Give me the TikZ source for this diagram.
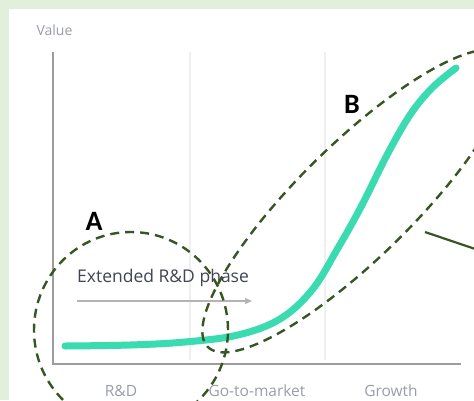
\documentclass[tikz,border=0pt]{standalone}
\usepackage{fontspec}
\setmainfont{Open Sans}
\newfontfamily\zonefont{Carlito}
\usetikzlibrary{arrows.meta,shapes.geometric}

\definecolor{panelgreen}{HTML}{E2EFDA}
\definecolor{darkgreen}{HTML}{375623}
\definecolor{mint}{HTML}{3ADBB0}
\definecolor{axisgray}{HTML}{9C9C9C}
\definecolor{gridgray}{HTML}{EFEFEF}
\definecolor{ticktext}{HTML}{9A9EA8}
\definecolor{phasetext}{HTML}{404552}
\definecolor{phasearrow}{HTML}{B4B4B4}

\begin{document}
\begin{tikzpicture}[
  x=1pt, y=-1pt,
  axis/.style={draw=axisgray, line width=2.6pt},
  gridline/.style={draw=gridgray, line width=1.6pt},
  ticklbl/.style={font=\fontsize{15.5}{18}\selectfont, text=ticktext, anchor=base},
  zone/.style={ellipse, draw=darkgreen, line width=2.4pt, dash pattern=on 9pt off 6pt, inner sep=0pt},
  zonelbl/.style={font=\zonefont\bfseries\fontsize{28}{30}\selectfont, anchor=base},
  lead/.style={draw=darkgreen, line width=2.2pt}
]
\useasboundingbox (0,0) rectangle (474,400);
\clip (0,0) rectangle (474,400);
\fill[panelgreen] (0,0) rectangle (474,400);
\fill[white] (9,9) rectangle (474,400);

% chart frame
\coordinate (ytop) at (53,52);
\coordinate (origin) at (53,364);
\coordinate (xend) at (461,364);
\draw[gridline] (190,52) -- (190,360);
\draw[gridline] (325,52) -- (325,360);
\draw[axis] (ytop) -- (origin) -- (xend);

\node[font=\fontsize{14}{16}\selectfont, text=ticktext, anchor=base west] (value) at (33,35) {Value};
\node[ticklbl] (rd) at (121,396) {R\&D};
\node[ticklbl] (gtm) at (257,396) {Go-to-market};
\node[ticklbl] (growth) at (391,396) {Growth};

% extended phase
\node[font=\fontsize{17.5}{20}\selectfont, text=phasetext, anchor=base west, inner sep=0pt] (phase) at (77,282) {Extended R\&D phase};
\coordinate (phasestart) at (77,301);
\coordinate (phaseend) at (252,301);
\draw[draw=phasearrow, line width=1.3pt, -{Triangle[length=7pt,width=6pt]}] (phasestart) -- (phaseend);

% value curve
\draw[mint, line width=7pt, line cap=round] plot[smooth, tension=0.6] coordinates {
  (65,346) (130,345) (185,342) (238,335) (280,319) (312,290)
  (338,248) (362,205) (387,155) (410,115) (432,88) (456,68)};

% zones
\node[zone, minimum width=194pt, minimum height=196pt] (zoneA) at (131,330) {};
\node[zone, minimum width=416pt, minimum height=114pt, rotate=44.5] (zoneB) at (356,201) {};
\node[zonelbl] (labelA) at (94,230) {A};
\node[zonelbl] (labelB) at (352,113) {B};

\coordinate (leadstart) at (425,232);
\coordinate (leadend) at (490,254);
\draw[lead] (leadstart) -- (leadend);
\end{tikzpicture}
\end{document}
